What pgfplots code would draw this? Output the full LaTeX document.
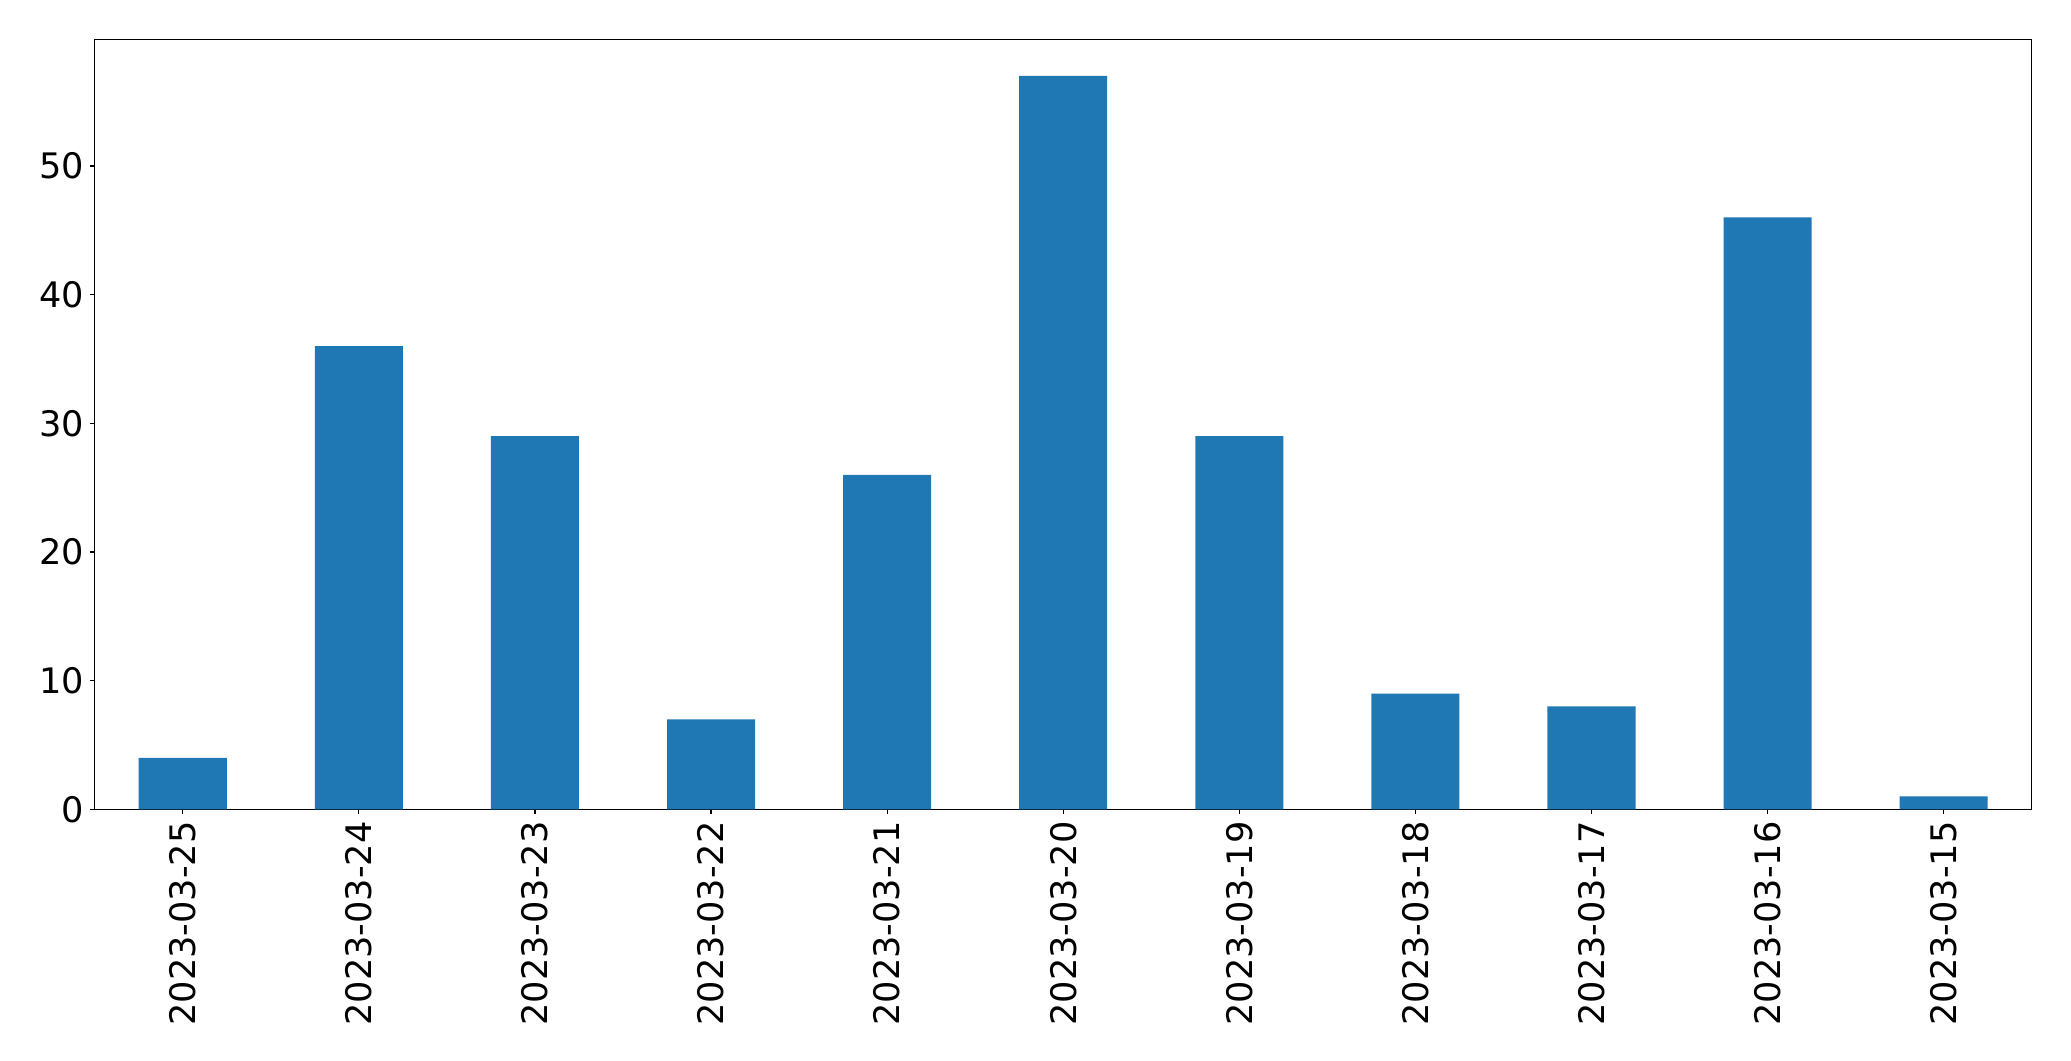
\documentclass[border=0pt]{standalone}
\usepackage{pgfplots}
\pgfplotsset{compat=1.18}
\usepackage{fontspec}
\setmainfont{DejaVu Sans}
\definecolor{barblue}{HTML}{1F77B4}
\begin{document}
\begin{tikzpicture}
\begin{axis}[
  scale only axis,
  width=1394.6pt, height=554.4pt,
  xmin=-0.5, xmax=10.5,
  ymin=0, ymax=59.85,
  xtick={0,1,2,3,4,5,6,7,8,9,10},
  xticklabels={2023-03-25,2023-03-24,2023-03-23,2023-03-22,2023-03-21,2023-03-20,2023-03-19,2023-03-18,2023-03-17,2023-03-16,2023-03-15},
  ytick={0,10,20,30,40,50},
  tick align=outside,
  major tick length=3.5pt,
  tick style={line width=0.8pt, black},
  axis line style={line width=0.8pt},
  xtick pos=bottom, ytick pos=left,
  /pgf/number format/assume math mode=true,
  tick label style={font=\fontsize{25.3}{29}\selectfont, inner sep=0pt},
  xticklabel style={rotate=90, anchor=east, xshift=-5pt},
  yticklabel style={anchor=east, xshift=-3.8pt},
  ymajorgrids=false,
]
\addplot[ybar, bar width=0.5, fill=barblue, draw=none] coordinates {
(0,4) (1,36) (2,29) (3,7) (4,26) (5,57) (6,29) (7,9) (8,8) (9,46) (10,1)
};
\coordinate (O) at (rel axis cs:0,0);
\end{axis}
\pgfresetboundingbox
\path[use as bounding box] (O) ++(-68.2pt,-181.2pt) rectangle ++(1491.1pt,763.9pt);
\end{tikzpicture}
\end{document}
